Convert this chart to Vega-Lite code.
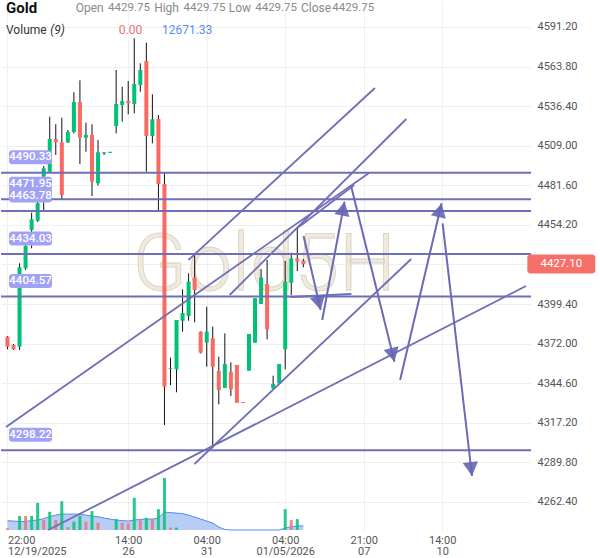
{
  "$schema": "https://vega.github.io/schema/vega-lite/v6.json",
  "width": 530,
  "height": 530,
  "padding": 0,
  "background": "white",
  "config": {
    "view": {"stroke": null},
    "font": "Roboto",
    "axis": {"domain": false, "ticks": false, "gridColor": "#f0f0f0", "labelColor": "#555555", "labelFont": "Roboto", "labelFontSize": 11}
  },
  "datasets": {
    "candles": [
      {"i":0,"o":4376.82,"h":4377.30,"l":4368.09,"c":4369.89,"vol":5100,"vd":"d","ma":28000},
      {"i":1,"o":4371.07,"h":4371.76,"l":4367.61,"c":4368.09,"vol":0,"vd":"d","ma":27000},
      {"i":2,"o":4369.89,"h":4427.63,"l":4367.61,"c":4424.86,"vol":42000,"vd":"u","ma":25500},
      {"i":3,"o":4424.16,"h":4441.47,"l":4422.99,"c":4439.60,"vol":42000,"vd":"d","ma":26000},
      {"i":4,"o":4450.68,"h":4462.65,"l":4438.01,"c":4458.08,"vol":42000,"vd":"u","ma":28500},
      {"i":5,"o":4457.11,"h":4472.62,"l":4456.21,"c":4469.16,"vol":82000,"vd":"u","ma":30000},
      {"i":6,"o":4487.57,"h":4494.98,"l":4463.34,"c":4493.39,"vol":30000,"vd":"d","ma":34500},
      {"i":7,"o":4491.03,"h":4529.11,"l":4490.13,"c":4513.67,"vol":55000,"vd":"u","ma":40000},
      {"i":8,"o":4513.67,"h":4523.85,"l":4502.59,"c":4511.39,"vol":30000,"vd":"d","ma":45000},
      {"i":9,"o":4511.39,"h":4528.41,"l":4471.93,"c":4474.90,"vol":87000,"vd":"u","ma":48000},
      {"i":10,"o":4511.39,"h":4519.90,"l":4510.90,"c":4518.52,"vol":8000,"vd":"d","ma":48000},
      {"i":11,"o":4518.52,"h":4546.00,"l":4517.62,"c":4539.28,"vol":25000,"vd":"u","ma":48000},
      {"i":12,"o":4539.28,"h":4554.30,"l":4496.36,"c":4514.57,"vol":43000,"vd":"u","ma":48000},
      {"i":13,"o":4514.57,"h":4524.95,"l":4504.88,"c":4516.44,"vol":25000,"vd":"d","ma":45000},
      {"i":14,"o":4516.44,"h":4523.85,"l":4474.21,"c":4484.11,"vol":57000,"vd":"u","ma":42000},
      {"i":15,"o":4483.00,"h":4512.98,"l":4481.34,"c":4504.46,"vol":22000,"vd":"d","ma":40000},
      {"i":16,"o":4503.77,"h":4504.67,"l":4502.59,"c":4504.46,"vol":0,"vd":"u","ma":36000},
      {"i":17,"o":4504.10,"h":4504.80,"l":4504.10,"c":4504.80,"vol":0,"vd":"u","ma":33000},
      {"i":18,"o":4522.67,"h":4561.43,"l":4517.62,"c":4537.90,"vol":33000,"vd":"u","ma":30000},
      {"i":19,"o":4537.21,"h":4549.87,"l":4525.65,"c":4539.97,"vol":22000,"vd":"d","ma":28500},
      {"i":20,"o":4539.97,"h":4553.82,"l":4530.77,"c":4538.38,"vol":20000,"vd":"d","ma":27000},
      {"i":21,"o":4537.90,"h":4583.38,"l":4531.46,"c":4551.74,"vol":97000,"vd":"u","ma":30000},
      {"i":22,"o":4551.05,"h":4566.07,"l":4546.41,"c":4561.43,"vol":30000,"vd":"d","ma":32000},
      {"i":23,"o":4567.66,"h":4580.33,"l":4491.03,"c":4515.75,"vol":37000,"vd":"u","ma":33000},
      {"i":24,"o":4515.75,"h":4544.61,"l":4510.69,"c":4527.31,"vol":32000,"vd":"d","ma":33000},
      {"i":25,"o":4527.51,"h":4530.28,"l":4463.34,"c":4482.52,"vol":63000,"vd":"u","ma":36000},
      {"i":26,"o":4482.52,"h":4490.13,"l":4315.69,"c":4342.20,"vol":157000,"vd":"u","ma":54000},
      {"i":27,"o":4354.46,"h":4362.28,"l":4343.38,"c":4354.94,"vol":7000,"vd":"d","ma":52500},
      {"i":28,"o":4354.25,"h":4388.38,"l":4338.33,"c":4388.38,"vol":7000,"vd":"u","ma":51000},
      {"i":29,"o":4387.89,"h":4409.63,"l":4380.28,"c":4393.22,"vol":0,"vd":"u","ma":49500},
      {"i":30,"o":4391.15,"h":4420.70,"l":4387.89,"c":4414.89,"vol":0,"vd":"u","ma":45000},
      {"i":31,"o":4417.66,"h":4433.37,"l":4386.78,"c":4409.14,"vol":0,"vd":"d","ma":39000},
      {"i":32,"o":4380.28,"h":4380.50,"l":4365.20,"c":4365.74,"vol":0,"vd":"d","ma":33000},
      {"i":33,"o":4372.66,"h":4397.58,"l":4356.05,"c":4380.28,"vol":0,"vd":"u","ma":27000},
      {"i":34,"o":4375.71,"h":4383.74,"l":4299.50,"c":4356.05,"vol":0,"vd":"d","ma":21000},
      {"i":35,"o":4353.07,"h":4362.97,"l":4330.02,"c":4339.92,"vol":0,"vd":"d","ma":9000},
      {"i":36,"o":4341.30,"h":4379.17,"l":4341.30,"c":4357.92,"vol":0,"vd":"u","ma":1500},
      {"i":37,"o":4352.38,"h":4359.09,"l":4335.77,"c":4340.40,"vol":0,"vd":"d","ma":0},
      {"i":38,"o":4357.23,"h":4357.23,"l":4331.13,"c":4331.13,"vol":0,"vd":"d","ma":0},
      {"i":39,"o":4331.60,"h":4331.60,"l":4331.00,"c":4331.00,"vol":0,"vd":"d","ma":0},
      {"i":40,"o":4353.28,"h":4378.69,"l":4353.28,"c":4378.69,"vol":0,"vd":"u","ma":0},
      {"i":41,"o":4372.66,"h":4403.40,"l":4372.66,"c":4403.40,"vol":0,"vd":"u","ma":0},
      {"i":42,"o":4399.45,"h":4423.68,"l":4399.45,"c":4417.66,"vol":0,"vd":"u","ma":0},
      {"i":43,"o":4413.30,"h":4429.91,"l":4375.01,"c":4381.94,"vol":0,"vd":"d","ma":0},
      {"i":44,"o":4341.09,"h":4349.82,"l":4340.40,"c":4344.07,"vol":0,"vd":"u","ma":0},
      {"i":45,"o":4344.56,"h":4357.92,"l":4344.56,"c":4357.92,"vol":0,"vd":"u","ma":0},
      {"i":46,"o":4368.09,"h":4429.22,"l":4354.25,"c":4414.89,"vol":63000,"vd":"u","ma":6000},
      {"i":47,"o":4414.20,"h":4434.96,"l":4405.68,"c":4431.09,"vol":30000,"vd":"d","ma":10000},
      {"i":48,"o":4431.09,"h":4452.06,"l":4422.30,"c":4428.73,"vol":33000,"vd":"u","ma":12000},
      {"i":49,"o":4429.42,"h":4430.60,"l":4424.86,"c":4427.10,"vol":0,"vd":"d","ma":12671.33}
    ],
    "levels": [{"v":4490.33},{"v":4471.95},{"v":4463.78},{"v":4434.03},{"v":4404.57},{"v":4298.22}],
    "trend": [
      {"i1":-0.244,"v1":4314.31,"i2":59.88,"v2":4490.13},
      {"i1":29.98,"v1":4429.91,"i2":60.86,"v2":4548.97},
      {"i1":36.80,"v1":4405.68,"i2":66.05,"v2":4527.51},
      {"i1":30.96,"v1":4288.70,"i2":66.87,"v2":4430.60},
      {"i1":6.74,"v1":4243.01,"i2":85.88,"v2":4411.91},
      {"i1":48.02,"v1":4452.06,"i2":57.44,"v2":4481.83},
      {"i1":46.88,"v1":4404.30,"i2":56.96,"v2":4406.37}
    ],
    "arrows": [
      {"i1":49.04,"v1":4446.52,"i2":51.87,"v2":4395.30},
      {"i1":52.13,"v1":4388.38,"i2":55.82,"v2":4470.28},
      {"i1":56.91,"v1":4481.14,"i2":64.10,"v2":4359.50},
      {"i1":65.03,"v1":4346.84,"i2":71.90,"v2":4469.13},
      {"i1":72.07,"v1":4455.32,"i2":76.94,"v2":4280.39}
    ]
  },
  "layer": [
    {
      "data": {"name": "candles"},
      "layer": [
        {
          "mark": {"type": "area", "color": "#aac4f3", "opacity": 0.85},
          "encoding": {
            "x": {"field": "i", "type": "quantitative", "title": null},
            "y": {"field": "ma", "type": "quantitative", "scale": {"domain": [0, 1590000]}, "axis": null}
          }
        },
        {
          "mark": {"type": "line", "color": "#4f8ef0", "strokeWidth": 1},
          "encoding": {
            "x": {"field": "i", "type": "quantitative", "title": null},
            "y": {"field": "ma", "type": "quantitative", "axis": null}
          }
        },
        {
          "mark": {"type": "bar", "orient": "vertical", "size": 3},
          "encoding": {
            "x": {"field": "i", "type": "quantitative", "title": null},
            "y": {"field": "vol", "type": "quantitative", "axis": null},
            "color": {"condition": {"test": "datum.vd === 'u'", "value": "#14c37c"}, "value": "#dc8282"},
            "opacity": {"value": 0.9}
          }
        }
      ]
    },
    {
      "layer": [
        {
          "data": {"values": [{}]},
          "mark": {"type": "text", "text": "Gold5H", "font": "Roboto", "fontWeight": 300, "fontSize": 80, "align": "center", "baseline": "alphabetic", "fill": "#efe9de", "stroke": "#d9d0be", "strokeWidth": 0.8},
          "encoding": {
            "x": {"datum": 42.49, "type": "quantitative"},
            "y": {"datum": 4409.14, "type": "quantitative"}
          }
        },
        {
          "data": {"name": "candles"},
          "mark": {"type": "rule", "color": "#111111", "strokeWidth": 1},
          "encoding": {
            "x": {
              "field": "i", "type": "quantitative", "title": null,
              "scale": {"domain": [-0.244, 85.88], "nice": false, "zero": false},
              "axis": {
                "values": [0, 20, 33, 46, 59, 72],
                "grid": true, "gridColor": "#efefef",
                "labelPadding": 4, "labelFontSize": 11, "labelColor": "#555555", "labelLineHeight": 11,
                "labelOverlap": false, "labelFlush": false, "labelBound": false,
                "labelAlign": {"condition": {"test": "datum.value == 0", "value": "left"}, "value": "center"},
                "labelExpr": "datum.value == 0 ? ['22:00', '12/19/2025'] : datum.value == 20 ? ['14:00', '26'] : datum.value == 33 ? ['04:00', '31'] : datum.value == 46 ? ['04:00', '01/05/2026'] : datum.value == 59 ? ['21:00', '07'] : ['14:00', '10']"
              }
            },
            "y": {
              "field": "l", "type": "quantitative", "title": null,
              "scale": {"domain": [4243.01, 4609.89], "nice": false, "zero": false},
              "axis": {
                "orient": "right",
                "values": [4262.4, 4289.8, 4317.2, 4344.6, 4372, 4399.4, 4426.8, 4454.2, 4481.6, 4509, 4536.4, 4563.8, 4591.2],
                "grid": true, "gridColor": "#efefef",
                "labelPadding": 6, "labelAlign": "left", "labelBaseline": "middle", "labelFontSize": 11, "labelColor": "#555555",
                "labelExpr": "abs(datum.value - 4426.8) < 0.01 ? '' : format(datum.value, '.2f')"
              }
            },
            "y2": {"field": "h"}
          }
        },
        {
          "data": {"name": "candles"},
          "mark": {"type": "bar", "orient": "vertical", "size": 4},
          "encoding": {
            "x": {"field": "i", "type": "quantitative", "title": null},
            "y": {"field": "o", "type": "quantitative", "title": null},
            "y2": {"field": "c"},
            "color": {"condition": {"test": "datum.c >= datum.o", "value": "#00c176"}, "value": "#fa6a62"}
          }
        },
        {
          "data": {"name": "levels"},
          "mark": {"type": "rule", "color": "#6f6fb8", "strokeWidth": 2},
          "encoding": {
            "y": {"field": "v", "type": "quantitative", "title": null}
          }
        },
        {
          "data": {"name": "trend"},
          "mark": {"type": "rule", "color": "#6f6fb8", "strokeWidth": 1.8},
          "encoding": {
            "x": {"field": "i1", "type": "quantitative", "title": null},
            "y": {"field": "v1", "type": "quantitative", "title": null},
            "x2": {"field": "i2"},
            "y2": {"field": "v2"}
          }
        },
        {
          "data": {"name": "arrows"},
          "mark": {"type": "rule", "color": "#6a6ab6", "strokeWidth": 2},
          "encoding": {
            "x": {"field": "i1", "type": "quantitative", "title": null},
            "y": {"field": "v1", "type": "quantitative", "title": null},
            "x2": {"field": "i2"},
            "y2": {"field": "v2"}
          }
        },
        {
          "data": {"name": "arrows"},
          "transform": [
            {"calculate": "atan2(6.154 * (datum.i2 - datum.i1), 1.4446 * (datum.v2 - datum.v1)) * 180 / PI", "as": "ang"}
          ],
          "mark": {"type": "point", "shape": "M0,0L0.55,1L-0.55,1Z", "size": 784, "filled": true, "color": "#6565b5", "opacity": 0.9, "strokeWidth": 0},
          "encoding": {
            "x": {"field": "i2", "type": "quantitative", "title": null},
            "y": {"field": "v2", "type": "quantitative", "title": null},
            "angle": {"field": "ang", "type": "quantitative", "scale": null}
          }
        },
        {
          "data": {"name": "levels"},
          "mark": {"type": "point", "shape": "M-0.86,-1.047H0.86A0.14,0.14 0 0 1 1,-0.907V-0.535A0.14,0.14 0 0 1 0.86,-0.395H-0.86A0.14,0.14 0 0 1 -1,-0.535V-0.907A0.14,0.14 0 0 1 -0.86,-1.047Z", "size": 1849, "filled": true, "color": "#a1a1f6", "opacity": 1, "strokeWidth": 0},
          "encoding": {
            "x": {"datum": 3.82, "type": "quantitative"},
            "y": {"field": "v", "type": "quantitative", "title": null}
          }
        },
        {
          "data": {"name": "levels"},
          "mark": {"type": "text", "color": "white", "fontSize": 11.5, "fontWeight": 500, "align": "center", "baseline": "middle", "dy": -15.5},
          "encoding": {
            "x": {"datum": 3.82, "type": "quantitative"},
            "y": {"field": "v", "type": "quantitative", "title": null},
            "text": {"field": "v", "type": "quantitative", "format": ".2f"}
          }
        },
        {
          "data": {"name": "candles"},
          "transform": [{"filter": "datum.i == 49"}],
          "mark": {"type": "point", "shape": "M-0.912,-0.279H0.912A0.088,0.088 0 0 1 1,-0.191V0.191A0.088,0.088 0 0 1 0.912,0.279H-0.912A0.088,0.088 0 0 1 -1,0.191V-0.191A0.088,0.088 0 0 1 -0.912,-0.279Z", "size": 4624, "filled": true, "color": "#f6706a", "opacity": 1, "strokeWidth": 0},
          "encoding": {
            "x": {"datum": 91.73, "type": "quantitative"},
            "y": {"field": "c", "type": "quantitative", "title": null}
          }
        },
        {
          "data": {"name": "candles"},
          "transform": [{"filter": "datum.i == 49"}],
          "mark": {"type": "text", "color": "white", "fontSize": 11.5, "align": "center", "baseline": "middle"},
          "encoding": {
            "x": {"datum": 91.73, "type": "quantitative"},
            "y": {"field": "c", "type": "quantitative", "title": null},
            "text": {"field": "c", "type": "quantitative", "format": ".2f"}
          }
        },
        {
          "data": {"values": [{}]},
          "mark": {"type": "text", "text": "Gold", "fontSize": 15, "fontWeight": "bold", "color": "#111111", "align": "left", "baseline": "alphabetic"},
          "encoding": {"x": {"datum": -0.244, "type": "quantitative"}, "y": {"datum": 4600.68, "type": "quantitative"}}
        },
        {
          "data": {"values": [{}]},
          "mark": {"type": "text", "text": "Open", "fontSize": 12, "color": "#8a8a8a", "align": "left", "baseline": "alphabetic"},
          "encoding": {"x": {"datum": 11.29, "type": "quantitative"}, "y": {"datum": 4601.58, "type": "quantitative"}}
        },
        {
          "data": {"values": [{}]},
          "mark": {"type": "text", "text": "4429.75", "fontSize": 11.5, "color": "#8a8a8a", "align": "left", "baseline": "alphabetic"},
          "encoding": {"x": {"datum": 16.66, "type": "quantitative"}, "y": {"datum": 4602.62, "type": "quantitative"}}
        },
        {
          "data": {"values": [{}]},
          "mark": {"type": "text", "text": "High", "fontSize": 12, "color": "#8a8a8a", "align": "left", "baseline": "alphabetic"},
          "encoding": {"x": {"datum": 24.29, "type": "quantitative"}, "y": {"datum": 4601.58, "type": "quantitative"}}
        },
        {
          "data": {"values": [{}]},
          "mark": {"type": "text", "text": "4429.75", "fontSize": 11.5, "color": "#8a8a8a", "align": "left", "baseline": "alphabetic"},
          "encoding": {"x": {"datum": 29.17, "type": "quantitative"}, "y": {"datum": 4602.62, "type": "quantitative"}}
        },
        {
          "data": {"values": [{}]},
          "mark": {"type": "text", "text": "Low", "fontSize": 12, "color": "#8a8a8a", "align": "left", "baseline": "alphabetic"},
          "encoding": {"x": {"datum": 36.64, "type": "quantitative"}, "y": {"datum": 4601.58, "type": "quantitative"}}
        },
        {
          "data": {"values": [{}]},
          "mark": {"type": "text", "text": "4429.75", "fontSize": 11.5, "color": "#8a8a8a", "align": "left", "baseline": "alphabetic"},
          "encoding": {"x": {"datum": 41.03, "type": "quantitative"}, "y": {"datum": 4602.62, "type": "quantitative"}}
        },
        {
          "data": {"values": [{}]},
          "mark": {"type": "text", "text": "Close", "fontSize": 12, "color": "#8a8a8a", "align": "left", "baseline": "alphabetic"},
          "encoding": {"x": {"datum": 48.62, "type": "quantitative"}, "y": {"datum": 4601.58, "type": "quantitative"}}
        },
        {
          "data": {"values": [{}]},
          "mark": {"type": "text", "text": "4429.75", "fontSize": 11.5, "color": "#8a8a8a", "align": "left", "baseline": "alphabetic"},
          "encoding": {"x": {"datum": 53.8, "type": "quantitative"}, "y": {"datum": 4602.62, "type": "quantitative"}}
        },
        {
          "data": {"values": [{}]},
          "mark": {"type": "text", "text": "Volume", "fontSize": 12, "color": "#333333", "align": "left", "baseline": "alphabetic"},
          "encoding": {"x": {"datum": -0.244, "type": "quantitative"}, "y": {"datum": 4586.35, "type": "quantitative"}}
        },
        {
          "data": {"values": [{}]},
          "mark": {"type": "text", "text": "(9)", "fontSize": 12, "fontStyle": "italic", "color": "#333333", "align": "left", "baseline": "alphabetic"},
          "encoding": {"x": {"datum": 7.07, "type": "quantitative"}, "y": {"datum": 4586.35, "type": "quantitative"}}
        },
        {
          "data": {"values": [{}]},
          "mark": {"type": "text", "text": "0.00", "fontSize": 12, "color": "#e57373", "align": "left", "baseline": "alphabetic"},
          "encoding": {"x": {"datum": 18.44, "type": "quantitative"}, "y": {"datum": 4586.7, "type": "quantitative"}}
        },
        {
          "data": {"values": [{}]},
          "mark": {"type": "text", "text": "12671.33", "fontSize": 12, "color": "#5b8def", "align": "left", "baseline": "alphabetic"},
          "encoding": {"x": {"datum": 25.59, "type": "quantitative"}, "y": {"datum": 4586.7, "type": "quantitative"}}
        }
      ]
    }
  ],
  "resolve": {"scale": {"y": "independent"}}
}
